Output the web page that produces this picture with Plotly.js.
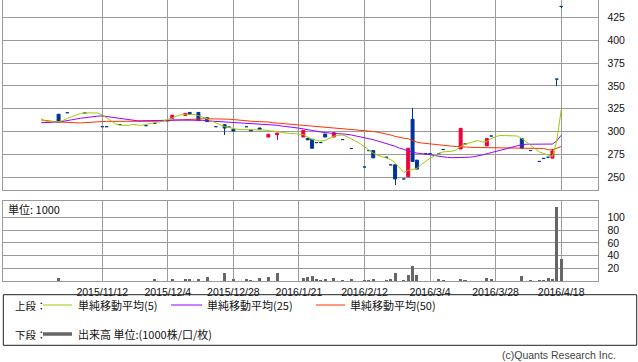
<!DOCTYPE html>
<html><head><meta charset="utf-8">
<script src="https://cdn.plot.ly/plotly-3.0.1.min.js"></script>
<style>html,body{margin:0;padding:0;background:#fff}#chart{width:638px;height:362px}</style>
</head><body><div id="chart"></div>
<script>
// all trading days on the category axis
const dates = [
"2015/10/22","2015/10/23","2015/10/26","2015/10/27","2015/10/28","2015/10/29","2015/10/30","2015/11/2","2015/11/4","2015/11/5",
"2015/11/6","2015/11/9","2015/11/10","2015/11/11","2015/11/12","2015/11/13","2015/11/16","2015/11/17","2015/11/18","2015/11/19",
"2015/11/20","2015/11/24","2015/11/25","2015/11/26","2015/11/27","2015/11/30","2015/12/1","2015/12/2","2015/12/3","2015/12/4",
"2015/12/7","2015/12/8","2015/12/9","2015/12/10","2015/12/11","2015/12/14","2015/12/15","2015/12/16","2015/12/17","2015/12/18",
"2015/12/21","2015/12/22","2015/12/24","2015/12/25","2015/12/28","2015/12/29","2015/12/30","2016/1/4","2016/1/5","2016/1/6",
"2016/1/7","2016/1/8","2016/1/12","2016/1/13","2016/1/14","2016/1/15","2016/1/18","2016/1/19","2016/1/20","2016/1/21",
"2016/1/22","2016/1/25","2016/1/26","2016/1/27","2016/1/28","2016/1/29","2016/2/1","2016/2/2","2016/2/3","2016/2/4",
"2016/2/5","2016/2/8","2016/2/9","2016/2/10","2016/2/12","2016/2/15","2016/2/16","2016/2/17","2016/2/18","2016/2/19",
"2016/2/22","2016/2/23","2016/2/24","2016/2/25","2016/2/26","2016/2/29","2016/3/1","2016/3/2","2016/3/3","2016/3/4",
"2016/3/7","2016/3/8","2016/3/9","2016/3/10","2016/3/11","2016/3/14","2016/3/15","2016/3/16","2016/3/17","2016/3/18",
"2016/3/22","2016/3/23","2016/3/24","2016/3/25","2016/3/28","2016/3/29","2016/3/30","2016/3/31","2016/4/1","2016/4/4",
"2016/4/5","2016/4/6","2016/4/7","2016/4/8","2016/4/11","2016/4/12","2016/4/13","2016/4/14","2016/4/15","2016/4/18"];

const tickDates = ["2015/11/12","2015/12/4","2015/12/28","2016/1/21","2016/2/12","2016/3/4","2016/3/28","2016/4/18"];
const priceTicks = [250,275,300,325,350,375,400,425];
const volumeTicks = [20,40,60,80,100];

const ma5 = [314.1,311.5,311,310.5,311,312,314.5,316.5,318,319.9,
 320.6,320.6,320.6,320.3,318.5,315.2,311.5,308.5,307,306.6,
 306.8,307.9,307.5,306.8,308,309,310,310.3,311.5,313.5,
 314.8,317,318.5,319,319,318.8,317.5,316,314,311.5,
 309.8,307.5,305.5,304.3,303.3,302.5,302.2,302.2,302.2,302.2,
 302.2,301.8,301.2,300.5,299.8,299,298.2,298,297.8,297.5,
 296.7,294.1,291.6,290.5,289.6,290.5,292.8,295,296,296.3,
 294.6,292.4,289.5,286.9,283.7,280,276.4,274.2,272.8,271.7,
 269.5,265.5,260,255.4,257.6,258.7,259.8,264.1,267.7,270.7,
 273.5,276.4,277.8,278.3,278.6,280,283.7,286.2,288,289.1,
 290.2,288.7,289.1,292.4,294.6,295.7,295.7,295.7,295.7,295.2,
 292.4,288.7,284.3,280.8,277.8,276.1,274.2,272.8,290,323.5];

const ma25 = [309.8,309.8,309.8,309.8,310.4,311.2,311.8,312.8,313.8,314.6,
 315.3,316.2,316.4,317,317.2,316.5,315.7,315,314.4,313.6,
 313,312.3,311.9,311.9,311.9,311.9,311.9,311.9,311.9,312.4,
 312.8,312.8,312.5,312.3,312.3,312.3,312.3,312.3,311.8,311.5,
 311.3,311,310.7,310.3,310.1,310,310,309.5,309,308.7,
 308.5,308.3,307.8,307.3,307,306.2,305.8,305.2,304.5,303.8,
 303,302,301.2,300.3,299.6,299,298.3,298,297.8,297.6,
 297,296.3,295.4,294.5,293.4,292.4,291.2,289.8,288.5,287.2,
 286,284,282,280.3,279,277.5,276.5,276.1,275.8,274.8,
 273.8,273,272.3,271.8,271.5,271.5,271.5,271.7,272,272.6,
 273.3,274.5,275.8,277,278.3,279.5,281,282.5,283.8,285,
 285.7,286.2,286.2,286.2,286.2,286.2,286.2,286.4,289.8,296];

const ma50 = [312.8,312,311.5,311,310.5,310.2,310,309.8,309.6,309.5,
 309.8,310.3,310.6,310.9,311,311.2,311.3,311.3,311.3,311.3,
 311.3,311.3,311.3,311.3,311.3,311.3,311.3,311.3,311.3,311.8,
 312.3,312.6,313,313.6,314,314.1,314.1,314.1,314.1,314.1,
 314.1,313.6,313.6,313.6,313.2,312.6,312.2,311.6,311,311,
 311,311,310.5,309.8,309.4,309,308.5,308.2,307.9,307.4,
 307,306.8,306.5,306,305.4,305,304.5,304.3,304,303.5,
 303,302.5,302,301.6,301.3,300.8,300.2,299.4,298.5,297.5,
 296.3,294.8,293.5,292.8,292.2,290.3,288.5,287.6,287,286.6,
 286.2,285.6,285,284.5,284.1,283.7,283.3,283,282.8,282.7,
 282.6,282.5,282,282,282,282,282,282,282,282,
 282,281.6,281.6,281.6,281.6,281.6,280.2,280,281.8,283.7];

// traded days
const tradeDates = ["2015/10/28","2015/10/30","2015/11/6","2015/11/12","2015/11/13","2015/11/18","2015/11/27","2015/12/1","2015/12/4","2015/12/7",
"2015/12/10","2015/12/11","2015/12/15","2015/12/17","2015/12/21","2015/12/24","2015/12/25","2015/12/28","2016/1/4","2016/1/5",
"2016/1/7","2016/1/12","2016/1/14","2016/1/22","2016/1/25","2016/1/26","2016/1/27","2016/1/28","2016/1/29","2016/2/2",
"2016/2/4","2016/2/8","2016/2/12","2016/2/15","2016/2/16","2016/2/19","2016/2/22","2016/2/23","2016/2/25","2016/2/26",
"2016/2/29","2016/3/1","2016/3/3","2016/3/4","2016/3/8","2016/3/9","2016/3/15","2016/3/16","2016/3/24","2016/3/25",
"2016/4/5","2016/4/7","2016/4/11","2016/4/12","2016/4/13","2016/4/14","2016/4/15","2016/4/18"];
const open  = [319,320.7,320.5,305.4,305.4,307.8,306.5,309,312,314.5,
 317.7,321,321,315.2,305.4,307.6,305,302.6,305.4,301.8,
 304,294.1,296.7,294.1,292.6,291.6,288,288,297.4,294.1,
 291.3,281.5,261.3,279.2,279.3,272,263.6,263.7,248.2,250.6,
 313.4,268.8,276,276,276,280.5,281,286.5,284.4,295.2,
 292.4,279.3,267.4,270.7,272,271,357.5,437];
const high  = [319.6,320.7,320.5,305.4,305.4,307.8,306.5,309,312,318,
 320,321,321,315.2,305.4,307.6,305,302.6,305.4,301.8,
 304,297.1,298.5,301.4,292.6,291.6,288,288,297.4,298.9,
 291.3,281.5,261.3,279.2,279.3,272,263.6,263.7,248.2,281.8,
 326,268.8,276,276,276,280.5,303.6,286.5,292.4,295.2,
 292.4,279.3,267.4,270.7,272,280.7,357.5,437];
const low   = [311,320.7,320.5,305.4,305.4,307.8,306.5,309,312,314.5,
 317.7,319,312.4,311,305.4,296.3,305,300.6,305.4,300.7,
 302.5,294.1,290.9,294.1,291,281.8,288,288,294.1,294.1,
 291.3,281.5,261.3,279.2,271.3,272,263.6,242,248.2,250.6,
 267.4,259,276,276,276,280.5,281,286.5,284.4,295.2,
 281.8,279.3,267.4,270.7,272,271,349.5,435.5];
const close = [311.2,320.7,320.5,305.4,305.4,307.8,306.5,309,312,318,
 320,319,312.4,311,305.4,303.9,305,300.6,305.4,300.7,
 302.5,297.1,298.5,301.4,291,281.8,288,288,294.1,298.9,
 291.3,281.5,261.3,279.2,271.3,272,263.6,248.2,248.2,281.8,
 267.4,259,276,276,276,280.5,303.6,286.5,292.4,295.2,
 281.8,279.3,267.4,270.7,272,278.9,357.5,437];
const volume = [5.8,1,1,1,1,1,1,3.6,1,3.6,
 3.6,3.6,3.6,6.8,1,12.6,1,3.6,3.1,2,
 4.7,6,13,5.2,6.8,8,3.1,2.6,3.1,4.7,
 1.6,3.1,2.6,2.6,3.1,2,3.6,12.6,1.6,9.4,
 23.5,9.4,1,1,3.1,2.6,3.1,2,4.7,3.6,
 7.8,1.6,1.6,1.6,4.7,3.6,116.5,34.5];

const UP = '#f0003c', DOWN = '#003399';
const candleColor = close.map((c,k)=> c > open[k] ? UP : DOWN);
const bodyBase = close.map((c,k)=> Math.min(c, open[k]));
const bodyLen = close.map((c,k)=> Math.abs(c - open[k]));
const wickLen = high.map((h,k)=> h - low[k]);

const W = 638, H = 362;
const px = v => v / W, py = v => 1 - v / H;
const font = 'Noto Sans CJK JP, Noto Sans, sans-serif';
const numFont = 'Liberation Sans, Arial, sans-serif';

const traces = [
  {type:'scatter', mode:'lines', x:dates, y:ma50, xaxis:'x2', yaxis:'y2', line:{color:'#ff3300', width:1}, hoverinfo:'skip'},
  {type:'scatter', mode:'lines', x:dates, y:ma25, xaxis:'x2', yaxis:'y2', line:{color:'#9900ff', width:1}, hoverinfo:'skip'},
  {type:'scatter', mode:'lines', x:dates, y:ma5, xaxis:'x2', yaxis:'y2', line:{color:'#99cc00', width:1}, hoverinfo:'skip'},
  {type:'bar', x:tradeDates, y:wickLen, base:low, width:0.24, xaxis:'x2', yaxis:'y2',
   marker:{color:candleColor, line:{width:0}}, hoverinfo:'skip'},
  {type:'bar', x:tradeDates, y:bodyLen, base:bodyBase, width:0.68, xaxis:'x2', yaxis:'y2',
   marker:{color:candleColor, line:{width:1, color:candleColor}}, hoverinfo:'skip'},
  {type:'bar', x:tradeDates, y:volume, width:0.7, xaxis:'x', yaxis:'y',
   marker:{color:'#666666', line:{width:0}}, hoverinfo:'skip'}
];

const gridColor = '#9a9a9a';
const xCommon = {
  type:'category', categoryorder:'array', categoryarray:dates,
  range:[-8.65, 127.5], domain:[px(3.3), px(598.3)],
  tickmode:'array', tickvals:tickDates, ticktext:tickDates,
  showgrid:true, gridcolor:gridColor, gridwidth:1,
  showline:true, linecolor:gridColor, linewidth:1, mirror:true,
  zeroline:false, fixedrange:true, ticks:''
};
const yTickFont = {family:numFont, size:10.5, color:'#111'};

const layout = {
  width:W, height:H, margin:{l:0, r:0, t:0, b:0},
  paper_bgcolor:'#fff', plot_bgcolor:'#fff',
  showlegend:false, barmode:'overlay', bargap:0,
  font:{family:font, size:10.5, color:'#222'},
  xaxis: Object.assign({}, xCommon, {anchor:'y', ticklabelstandoff:1,
    tickfont:{family:numFont, size:10.5, color:'#111'}}),
  xaxis2: Object.assign({}, xCommon, {anchor:'y2', matches:'x', showticklabels:false}),
  yaxis: {domain:[py(281.3), py(201)], range:[0, 125.3], side:'right', anchor:'x',
    tickmode:'array', tickvals:volumeTicks, showgrid:true, gridcolor:gridColor,
    showline:true, linecolor:gridColor, mirror:true, zeroline:false,
    ticks:'outside', ticklen:6, tickcolor:'rgba(0,0,0,0)', tickfont:yTickFont},
  yaxis2: {domain:[py(190.3), py(0.4)], range:[235.8, 443.6], side:'right', anchor:'x2',
    tickmode:'array', tickvals:priceTicks, showgrid:true, gridcolor:gridColor,
    showline:true, linecolor:gridColor, mirror:true, zeroline:false,
    ticks:'outside', ticklen:6, tickcolor:'rgba(0,0,0,0)', tickfont:yTickFont},
  shapes: [
    {type:'rect', xref:'paper', yref:'paper', x0:px(3.3), x1:px(636.7), y0:py(345.3), y1:py(294.7), line:{color:'#222', width:1}},
    {type:'line', xref:'paper', yref:'paper', x0:px(43), x1:px(72), y0:py(305), y1:py(305), line:{color:'#99cc00', width:1}},
    {type:'line', xref:'paper', yref:'paper', x0:px(171), x1:px(202), y0:py(305), y1:py(305), line:{color:'#9900ff', width:1}},
    {type:'line', xref:'paper', yref:'paper', x0:px(316), x1:px(345), y0:py(305), y1:py(305), line:{color:'#ff3300', width:1}},
    {type:'line', xref:'paper', yref:'paper', x0:px(43), x1:px(72), y0:py(334), y1:py(334), line:{color:'#666666', width:3.5}}
  ],
  annotations: [
    {text:'単位: 1000', x:px(6), y:py(209), xref:'paper', yref:'paper', xanchor:'left', yanchor:'middle', showarrow:false, font:{size:11, color:'#111'}},
    {text:'上段：', x:px(13), y:py(305), xref:'paper', yref:'paper', xanchor:'left', yanchor:'middle', showarrow:false, font:{size:10.5, color:'#111'}},
    {text:'単純移動平均(5)', x:px(76), y:py(305), xref:'paper', yref:'paper', xanchor:'left', yanchor:'middle', showarrow:false, font:{size:11, color:'#111'}},
    {text:'単純移動平均(25)', x:px(205), y:py(305), xref:'paper', yref:'paper', xanchor:'left', yanchor:'middle', showarrow:false, font:{size:11, color:'#111'}},
    {text:'単純移動平均(50)', x:px(348), y:py(305), xref:'paper', yref:'paper', xanchor:'left', yanchor:'middle', showarrow:false, font:{size:11, color:'#111'}},
    {text:'下段：', x:px(13), y:py(334), xref:'paper', yref:'paper', xanchor:'left', yanchor:'middle', showarrow:false, font:{size:10.5, color:'#111'}},
    {text:'出来高 単位:(1000株/口/枚)', x:px(76), y:py(334), xref:'paper', yref:'paper', xanchor:'left', yanchor:'middle', showarrow:false, font:{size:11, color:'#111'}},
    {text:'(c)Quants Research Inc.', x:px(618), y:py(355), xref:'paper', yref:'paper', xanchor:'right', yanchor:'middle', showarrow:false, font:{family:numFont, size:10.5, color:'#444'}}
  ]
};

Plotly.newPlot('chart', traces, layout, {staticPlot:true, displayModeBar:false});
</script>
</body></html>
